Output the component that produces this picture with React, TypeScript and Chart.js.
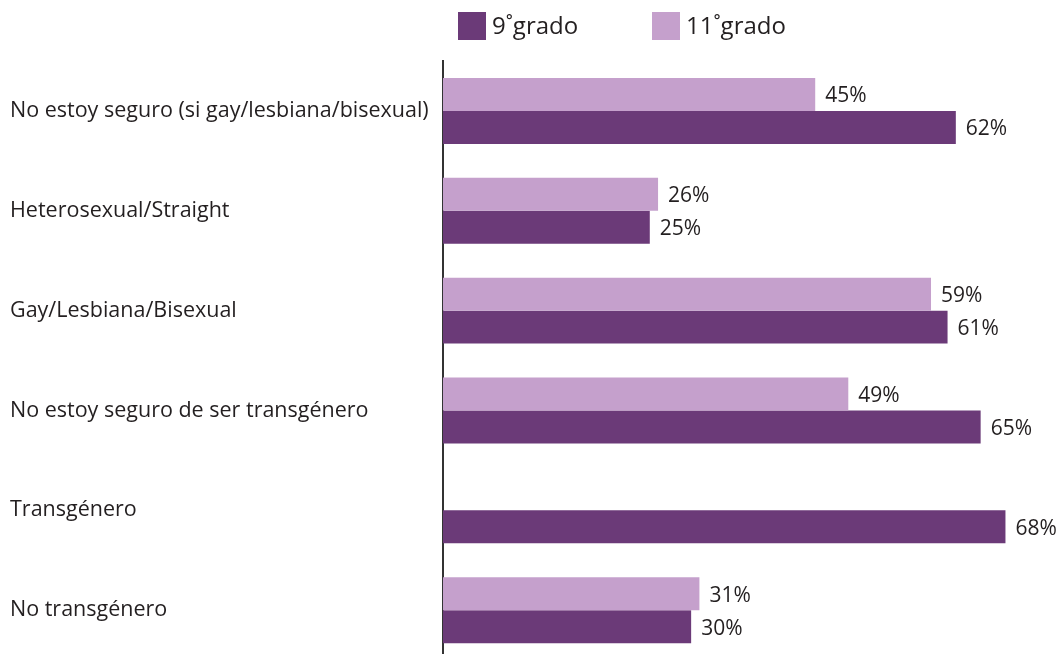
import React, { useEffect, useRef } from "react";
import { Chart, registerables } from "chart.js";

Chart.register(...registerables);

const categories = [
  "No estoy seguro (si gay/lesbiana/bisexual)",
  "Heterosexual/Straight",
  "Gay/Lesbiana/Bisexual",
  "No estoy seguro de ser transgénero",
  "Transgénero",
  "No transgénero",
];
const grade11 = [45, 26, 59, 49, null, 31];
const grade9 = [62, 25, 61, 65, 68, 30];
const seriesNames = ["9˚grado", "11˚grado"];

const DARK = "#6B3A78";
const LIGHT = "#C5A0CC";
const TEXT = "#231F20";
const FONT = "'Open Sans', sans-serif";

const valueLabels = {
  id: "valueLabels",
  afterDatasetsDraw(chart: any) {
    const ctx = chart.ctx;
    ctx.save();
    ctx.font = `21px ${FONT}`;
    ctx.fillStyle = TEXT;
    ctx.textAlign = "left";
    ctx.textBaseline = "middle";
    chart.data.datasets.forEach((ds: any, di: number) => {
      const meta = chart.getDatasetMeta(di);
      meta.data.forEach((el: any, i: number) => {
        const v = ds.data[i];
        if (v === null || v === undefined) return;
        ctx.fillText(`${v}%`, el.x + 10, el.y + 2);
      });
    });
    ctx.restore();
  },
};

const customLegend = {
  id: "customLegend",
  afterDraw(chart: any) {
    const ctx = chart.ctx;
    ctx.save();
    const items = [
      { x: 458, color: DARK, text: seriesNames[0] },
      { x: 652, color: LIGHT, text: seriesNames[1] },
    ];
    ctx.font = `24px ${FONT}`;
    ctx.textAlign = "left";
    ctx.textBaseline = "middle";
    items.forEach((it) => {
      ctx.fillStyle = it.color;
      ctx.fillRect(it.x, 12, 28, 28);
      ctx.fillStyle = TEXT;
      ctx.fillText(it.text, it.x + 34, 27);
    });
    ctx.restore();
  },
};

export default function App() {
  const ref = useRef<HTMLCanvasElement>(null);
  useEffect(() => {
    if (!ref.current) return;
    const chart = new Chart(ref.current, {
      type: "bar",
      data: {
        labels: categories,
        datasets: [
          {
            label: seriesNames[1],
            data: grade11,
            backgroundColor: LIGHT,
            barPercentage: 1,
            categoryPercentage: 0.66,
          },
          {
            label: seriesNames[0],
            data: grade9,
            backgroundColor: DARK,
            barPercentage: 1,
            categoryPercentage: 0.66,
          },
        ],
      },
      options: {
        indexAxis: "y",
        responsive: false,
        animation: false,
        devicePixelRatio: 1,
        layout: { padding: { left: 10, top: 61, right: 42, bottom: 3 } },
        plugins: {
          legend: { display: false },
          tooltip: { enabled: false },
        },
        scales: {
          x: { display: false, min: 0, max: 70 },
          y: {
            grid: { display: false },
            border: { display: true, color: "#333333", width: 2 },
            ticks: {
              crossAlign: "far",
              color: TEXT,
              font: { family: FONT, size: 21.5 },
            },
            afterFit(scale: any) {
              scale.width = 433;
            },
          },
        },
      },
      plugins: [valueLabels, customLegend],
    });
    return () => chart.destroy();
  }, []);
  return (
    <div style={{ position: "fixed", left: 0, top: 0, width: 1064, height: 676, background: "#fff" }}>
      <canvas ref={ref} width={1064} height={676} />
    </div>
  );
}
